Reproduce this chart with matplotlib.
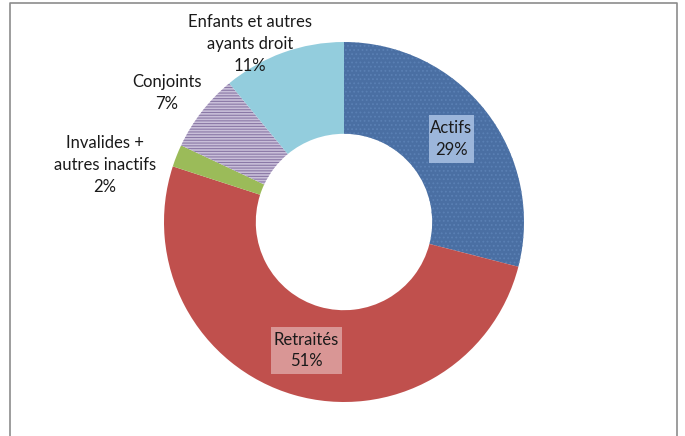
import matplotlib
matplotlib.use("Agg")
import matplotlib.pyplot as plt
from matplotlib.patches import Rectangle

categories = ["Actifs", "Retraités", "Invalides +\nautres inactifs", "Conjoints", "Enfants et autres\nayants droit"]
values = [29, 51, 2, 7, 11]
colors = ["#4A6FA3", "#C0504D", "#9BBB59", "#A898C0", "#93CDDD"]

W, H = 685, 436
plt.rcParams["hatch.linewidth"] = 0.8
fig = plt.figure(figsize=(W / 100, H / 100), dpi=100)
ax = fig.add_axes([0, 0, 1, 1])

def Y(y):
    return H - y

cx, cy, R = 344, Y(222), 180
wedges, _ = ax.pie(values, colors=colors, startangle=90, counterclock=False,
                   center=(cx, cy), radius=R, frame=True,
                   wedgeprops=dict(width=R * 0.51, linewidth=0))
ax.set_xlim(0, W)
ax.set_ylim(0, H)
ax.set_aspect("equal")
ax.axis("off")

# patterns
wedges[0].set_hatch("....")
wedges[0].set_edgecolor("#5A80B4")
wedges[0].set_linewidth(0)
wedges[3].set_facecolor("#C9BFD9")
wedges[3].set_hatch("------")
wedges[3].set_edgecolor("#8A78A6")
wedges[3].set_linewidth(0)

font = ["Lato", "DejaVu Sans"]
fs = 12
ls = 1.45
tc = "#1a1a1a"

# frame
ax.plot([10, 10, 677, 677], [Y(440), Y(3), Y(3), Y(440)], color="#8C8C8C", lw=1.2, clip_on=False)

# inside labels with boxes
ax.add_patch(Rectangle((429, Y(163)), 45, 48, facecolor="#9CB6DB", edgecolor="none", zorder=3))
ax.text(451.5, Y(139), f"{categories[0]}\n{values[0]}%", ha="center", va="center",
        fontsize=fs, family=font, linespacing=ls, zorder=4, color=tc)
ax.add_patch(Rectangle((271, Y(374)), 71, 47, facecolor="#D99695", edgecolor="none", zorder=3))
ax.text(306.5, Y(350.5), f"{categories[1]}\n{values[1]}%", ha="center", va="center",
        fontsize=fs, family=font, linespacing=ls, zorder=4, color=tc)

# outside labels
ax.text(105, Y(165), f"{categories[2]}\n{values[2]}%", ha="center", va="center",
        fontsize=fs, family=font, linespacing=ls, color=tc)
ax.text(167, Y(93), f"{categories[3]}\n{values[3]}%", ha="center", va="center",
        fontsize=fs, family=font, linespacing=ls, color=tc)
ax.text(250, Y(44), f"{categories[4]}\n{values[4]}%", ha="center", va="center",
        fontsize=fs, family=font, linespacing=ls, color=tc)

fig.savefig("out.png", dpi=100)
